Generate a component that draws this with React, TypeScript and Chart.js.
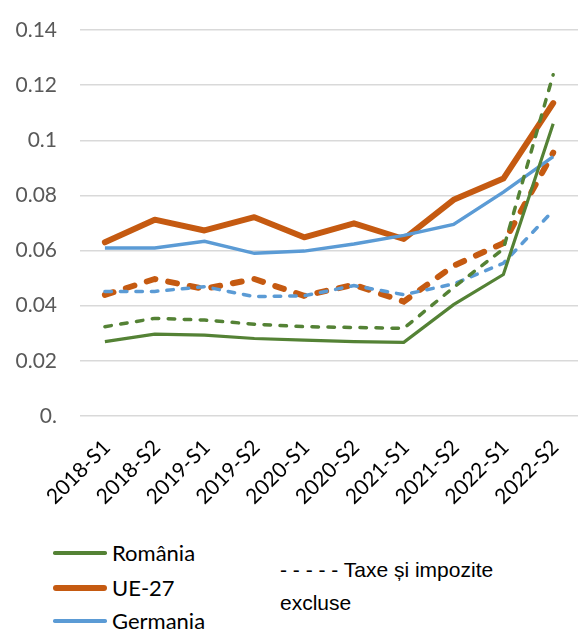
import React, { useEffect, useRef } from 'react';
import { Chart, registerables } from 'chart.js';

Chart.register(...registerables);

const categories = ['2018-S1', '2018-S2', '2019-S1', '2019-S2', '2020-S1', '2020-S2', '2021-S1', '2021-S2', '2022-S1', '2022-S2'];
const romania = [0.0270, 0.0297, 0.0293, 0.0281, 0.0275, 0.0270, 0.0267, 0.0404, 0.0513, 0.1060];
const romaniaExcl = [0.0324, 0.0354, 0.0348, 0.0333, 0.0324, 0.0321, 0.0318, 0.0466, 0.0606, 0.1238];
const ue27 = [0.0630, 0.0712, 0.0673, 0.0721, 0.0648, 0.0699, 0.0642, 0.0784, 0.0861, 0.1135];
const ue27Excl = [0.0439, 0.0497, 0.0461, 0.0497, 0.0436, 0.0476, 0.0415, 0.0545, 0.0627, 0.0955];
const germania = [0.0609, 0.0609, 0.0634, 0.0590, 0.0598, 0.0624, 0.0655, 0.0695, 0.0812, 0.0941];
const germaniaExcl = [0.0452, 0.0452, 0.0469, 0.0433, 0.0436, 0.0473, 0.0440, 0.0479, 0.0554, 0.0745];

const yTickValues = [0, 0.02, 0.04, 0.06, 0.08, 0.1, 0.12, 0.14];
const yTickLabels = ['0.', '0.02', '0.04', '0.06', '0.08', '0.1', '0.12', '0.14'];

const legendItems = ['România', 'UE-27', 'Germania'];
const legendNote1 = '- - - - - Taxe și impozite';
const legendNote2 = 'excluse';

const GREEN = '#548235';
const ORANGE = '#C55A11';
const BLUE = '#5B9BD5';

export default function App() {
  const ref = useRef<HTMLCanvasElement>(null);

  useEffect(() => {
    const chart = new Chart(ref.current!, {
      type: 'line',
      data: {
        labels: categories,
        datasets: [
          { label: 'România excl.', data: romaniaExcl, borderColor: GREEN, borderWidth: 3.5, borderDash: [6.5, 9.5], borderCapStyle: 'round' },
          { label: 'România', data: romania, borderColor: GREEN, borderWidth: 3.2 },
          { label: 'Germania', data: germania, borderColor: BLUE, borderWidth: 3.5 },
          { label: 'Germania excl.', data: germaniaExcl, borderColor: BLUE, borderWidth: 3.5, borderDash: [6.5, 9], borderCapStyle: 'round' },
          { label: 'UE-27 excl.', data: ue27Excl, borderColor: ORANGE, borderWidth: 6, borderDash: [9, 13], borderCapStyle: 'round' },
          { label: 'UE-27', data: ue27, borderColor: ORANGE, borderWidth: 6, borderJoinStyle: 'round', borderCapStyle: 'round' },
        ] as any,
      },
      options: {
        responsive: false,
        animation: false,
        layout: { padding: { top: 30, right: 0, left: 0, bottom: 0 } },
        plugins: { legend: { display: false }, tooltip: { enabled: false } },
        elements: { point: { radius: 0 }, line: { tension: 0, fill: false } },
        scales: {
          x: {
            offset: true,
            grid: { display: false, drawTicks: false },
            border: { display: false },
            ticks: {
              autoSkip: false,
              maxRotation: 45,
              minRotation: 45,
              color: '#000',
              font: { family: 'Lato', size: 21 },
              padding: 19,
              labelOffset: 2,
            },
            afterFit: (s: any) => { s.height = 115; },
          },
          y: {
            min: 0,
            max: 0.14,
            afterBuildTicks: (s: any) => { s.ticks = yTickValues.map((v) => ({ value: v })); },
            ticks: {
              callback: (_v: any, i: number) => yTickLabels[i],
              color: '#595959',
              font: { family: 'Lato', size: 21 },
              padding: 3,
            },
            grid: { color: '#D9D9D9', lineWidth: 1.5, drawTicks: true, tickLength: 20, tickColor: 'rgba(0,0,0,0)' },
            border: { display: false },
            afterFit: (s: any) => { s.width = 80; },
          },
        },
      },
    });
    return () => chart.destroy();
  }, []);

  const colors = [GREEN, ORANGE, BLUE];
  const widths = [3.5, 6, 3.5];
  const ys = [553, 588, 621];

  return (
    <div style={{ position: 'absolute', left: 0, top: 0, width: 578, height: 629, overflow: 'hidden', background: '#fff' }}>
      <canvas ref={ref} width={590} height={531} style={{ display: 'block', position: 'absolute', left: 0, top: 0 }} />
      {legendItems.map((name, i) => (
        <React.Fragment key={name}>
          <div style={{ position: 'absolute', left: 53, top: ys[i] - widths[i] / 2, width: 54, height: widths[i], background: colors[i], borderRadius: widths[i] / 2 }} />
          <div style={{ position: 'absolute', left: 112, top: ys[i] - 14.5, height: 28, lineHeight: '28px', fontFamily: 'Lato', fontSize: 22, color: '#000', whiteSpace: 'nowrap' }}>{name}</div>
        </React.Fragment>
      ))}
      <div style={{ position: 'absolute', left: 280, top: 553, lineHeight: '33px', fontFamily: '"Liberation Sans", Arial', fontSize: 21, color: '#000', whiteSpace: 'nowrap' }}>
        {legendNote1}
        <br />
        {legendNote2}
      </div>
    </div>
  );
}
